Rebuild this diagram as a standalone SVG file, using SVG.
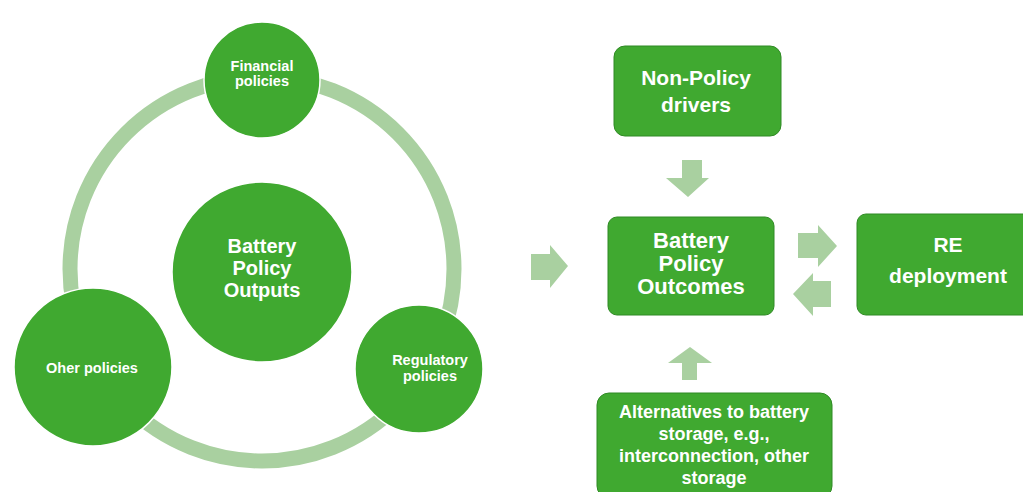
<svg xmlns="http://www.w3.org/2000/svg" width="1023" height="492" viewBox="0 0 1023 492">
<style>
.n{fill:#40a930;stroke:#ffffff;stroke-width:1.5}
.b{fill:#40a930;stroke:#2f8a24;stroke-width:1}
.t{fill:#ffffff;font-family:"Liberation Sans",Arial,sans-serif;font-weight:bold;text-anchor:middle}
.a{fill:#a9d0a0}
</style>
<rect width="1023" height="492" fill="#ffffff"/>
<g id="connectors">
<circle cx="262" cy="269" r="192" fill="none" stroke="#a9d0a0" stroke-width="15"/>
<polygon class="a" points="531,254 550,254 550,245 568,266 550,288 550,280 531,280"/>
<polygon class="a" points="682,160 702,160 702,178 709,178 688,197 666,178 682,178"/>
<polygon class="a" points="798,233 818,233 818,225 837,246 818,267 818,258 798,258"/>
<polygon class="a" points="831,281 813,281 813,273 793,294 813,316 813,307 831,307"/>
<polygon class="a" points="682,380 697,380 697,363 712,363 690,347 668,363 682,363"/>
</g>
<g id="financial"><circle class="n" cx="262" cy="80" r="58"/><text class="t" font-size="14.5"><tspan x="262" y="71">Financial</tspan><tspan x="262" y="86">policies</tspan></text></g>
<g id="outputs"><circle class="n" cx="262" cy="272" r="90"/><text class="t" font-size="20"><tspan x="262" y="253">Battery</tspan><tspan x="262" y="275">Policy</tspan><tspan x="262" y="297">Outputs</tspan></text></g>
<g id="other"><circle class="n" cx="93" cy="367" r="79"/><text class="t" font-size="14.5"><tspan x="92" y="373">Oher policies</tspan></text></g>
<g id="regulatory"><circle class="n" cx="419" cy="369" r="64"/><text class="t" font-size="14.5"><tspan x="430" y="365">Regulatory</tspan><tspan x="430" y="381">policies</tspan></text></g>
<g id="nonpolicy"><rect class="b" x="614" y="46" width="167" height="90" rx="11"/><text class="t" font-size="21"><tspan x="696" y="85">Non-Policy</tspan><tspan x="696" y="112">drivers</tspan></text></g>
<g id="outcomes"><rect class="b" x="608" y="217" width="166" height="98" rx="9"/><text class="t" font-size="22"><tspan x="691" y="248">Battery</tspan><tspan x="691" y="271">Policy</tspan><tspan x="691" y="294">Outcomes</tspan></text></g>
<g id="re"><rect class="b" x="857" y="214" width="175" height="101" rx="9"/><text class="t" font-size="21"><tspan x="948" y="252">RE</tspan><tspan x="948" y="283">deployment</tspan></text></g>
<g id="alternatives"><rect class="b" x="597" y="393" width="235" height="105" rx="12"/><text class="t" font-size="18"><tspan x="714" y="418">Alternatives to battery</tspan><tspan x="714" y="440">storage, e.g.,</tspan><tspan x="714" y="462">interconnection, other</tspan><tspan x="714" y="484">storage</tspan></text></g>
</svg>
